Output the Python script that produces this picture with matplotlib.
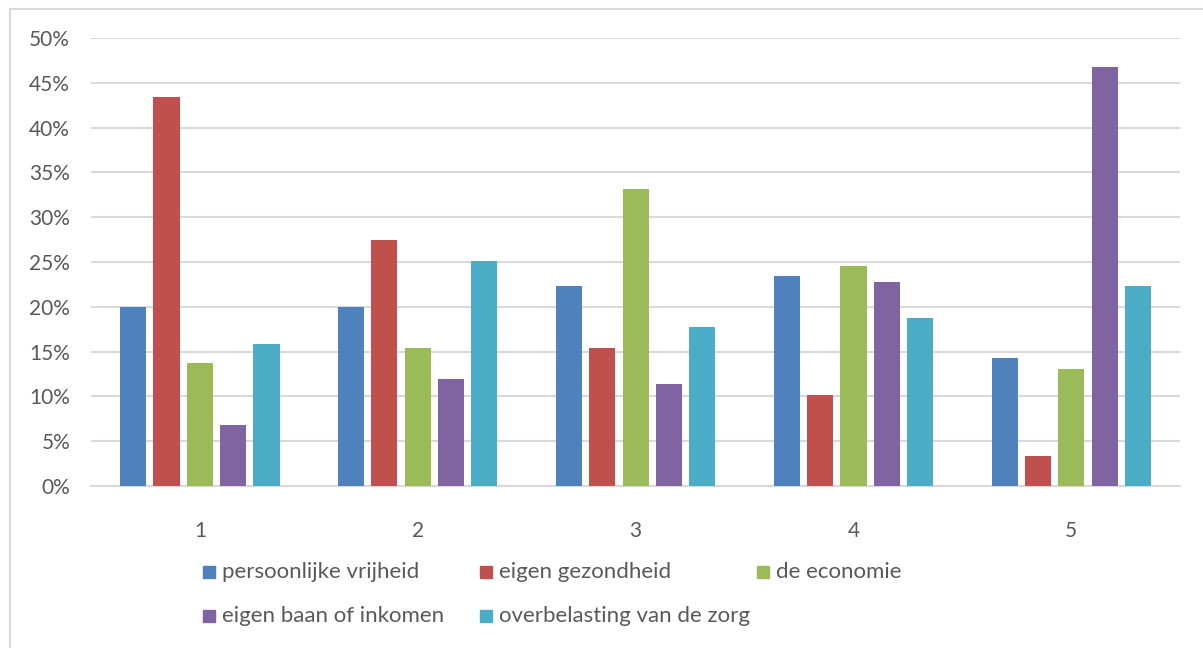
import numpy as np
import matplotlib
matplotlib.use("Agg")
import matplotlib.pyplot as plt
from matplotlib.patches import Rectangle
from matplotlib.ticker import PercentFormatter

plt.rcParams["font.family"] = ["Lato", "DejaVu Sans"]

# ── data ─────────────────────────────────────────────
categories = ["1", "2", "3", "4", "5"]
series = ["persoonlijke vrijheid", "eigen gezondheid", "de economie",
          "eigen baan of inkomen", "overbelasting van de zorg"]
vrijheid   = [20.0, 20.0, 22.3, 23.4, 14.3]
gezondheid = [43.4, 27.4, 15.4, 10.2, 3.4]
economie   = [13.7, 15.4, 33.1, 24.5, 13.1]
baan       = [6.85, 11.9, 11.4, 22.8, 46.8]
zorg       = [15.9, 25.1, 17.7, 18.8, 22.3]
yticks = [0, 5, 10, 15, 20, 25, 30, 35, 40, 45, 50]

colors = ["#4F81BD", "#C0504D", "#9BBB59", "#8064A2", "#4BACC6"]
TEXT = "#595959"
GRID = "#D9D9D9"

fig = plt.figure(figsize=(12.03, 6.48), dpi=100)
ax = fig.add_axes([0.0756, 0.25, 0.9055, 0.6914])

# chart frame
fig.patches.append(Rectangle((10 / 1203, -0.1), 1.2, 1 - 9 / 648 + 0.1,
                             transform=fig.transFigure, fill=False,
                             edgecolor=GRID, lw=1.5))

x = np.arange(len(categories))
width = 0.12
step = 0.153
values = [vrijheid, gezondheid, economie, baan, zorg]
for i, (vals, col) in enumerate(zip(values, colors)):
    ax.bar(x + (i - 2) * step, vals, width, color=col, zorder=3)

ax.set_xlim(-0.5, len(categories) - 0.5)
ax.set_ylim(0, 50)
ax.set_yticks(yticks)
ax.yaxis.set_major_formatter(PercentFormatter(decimals=0))
ax.set_xticks(x)
ax.set_xticklabels(categories)
ax.grid(axis="y", color=GRID, lw=1.5, zorder=0)
for s in ["top", "right", "left"]:
    ax.spines[s].set_visible(False)
ax.spines["bottom"].set_color(GRID)
ax.spines["bottom"].set_linewidth(1.5)
ax.tick_params(axis="both", length=0, labelsize=15, labelcolor=TEXT)
ax.tick_params(axis="y", pad=15)
ax.tick_params(axis="x", pad=25)

# legend, three equal columns
for i, (name, col) in enumerate(zip(series, colors)):
    r, c = divmod(i, 3)
    px = 203 + c * 277
    py = 572 + r * 44
    fig.patches.append(Rectangle((px / 1203, 1 - (py + 6) / 648), 12 / 1203, 12 / 648,
                                 transform=fig.transFigure, color=col))
    fig.text((px + 19) / 1203, 1 - py / 648, name, fontsize=16, color=TEXT,
             va="center", ha="left")

fig.savefig("out.png", dpi=100)
